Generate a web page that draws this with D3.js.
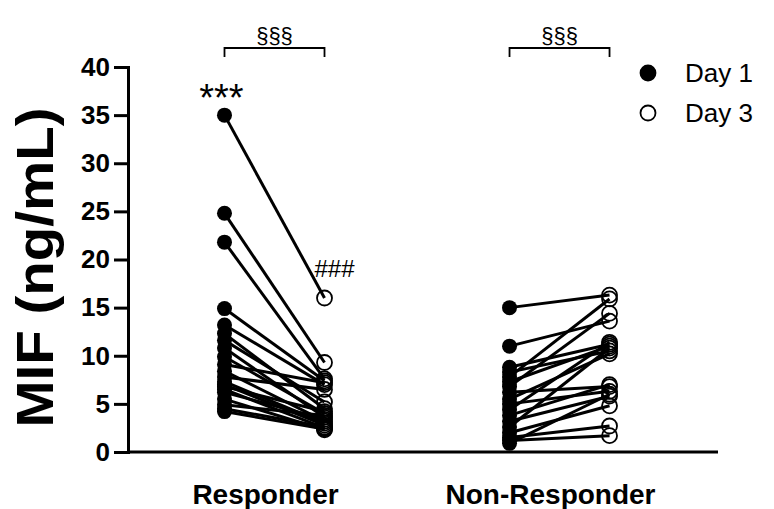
<!DOCTYPE html>
<html>
<head>
<meta charset="utf-8">
<script src="https://cdn.jsdelivr.net/npm/d3@7"></script>
<style>
  body { margin: 0; background: #fff; }
  text { font-family: "Liberation Sans", Arial, sans-serif; }
</style>
</head>
<body>
<svg id="chart" width="774" height="509"></svg>
<script>
// groups and days
const groups = ["Responder", "Non-Responder"];
const days = ["Day 1", "Day 3"];
const yTicks = [0, 5, 10, 15, 20, 25, 30, 35, 40];

// paired values (same index = same patient), ng/mL
const responderDay1 = [35, 24.8, 21.8, 14.9, 13.2, 12.3, 11.6, 10.8, 9.9, 9.1, 8.4, 7.8, 7.3, 7.0, 6.8, 6.5, 6.2, 5.5, 4.9, 4.5, 4.2];
const responderDay3 = [16.0, 9.3, 7.6, 7.4, 7.0, 4.5, 5.2, 3.6, 4.0, 7.2, 3.2, 6.5, 3.0, 2.8, 4.2, 2.5, 3.4, 2.3, 3.8, 2.6, 2.4];
const nonResponderDay1 = [15.0, 11.0, 8.8, 8.3, 7.8, 7.3, 6.8, 6.2, 5.5, 5.0, 4.4, 3.8, 3.2, 2.6, 2.0, 1.5, 1.2, 0.9];
const nonResponderDay3 = [16.3, 13.6, 11.2, 10.5, 15.9, 11.0, 14.4, 6.8, 10.2, 6.3, 11.4, 7.0, 5.8, 10.8, 4.8, 2.7, 1.7, 6.0];

const series = [
  { group: "Responder", d1: responderDay1, d3: responderDay3 },
  { group: "Non-Responder", d1: nonResponderDay1, d3: nonResponderDay3 }
];

const margin = { top: 67, right: 56, bottom: 57, left: 128 };
const width = 774 - margin.left - margin.right;
const height = 509 - margin.top - margin.bottom;

const svg = d3.select("#chart");
const g = svg.append("g").attr("transform", `translate(${margin.left},${margin.top})`);

const yScale = d3.scaleLinear().domain([0, 40]).range([height, 0]);
const xScale = d3.scaleBand().domain(groups).range([0, width])
  .paddingInner(0).paddingOuter(0.035).align(0.2);
const dayScale = d3.scalePoint().domain(days).range([0, xScale.bandwidth()]).padding(0.925);

const xPos = (grp, day) => xScale(grp) + dayScale(day);

// y axis
const yAxis = g.append("g")
  .call(d3.axisLeft(yScale).tickValues(yTicks).tickSize(14).tickPadding(4));
yAxis.select(".domain").attr("stroke-width", 3);
yAxis.selectAll(".tick line").attr("stroke-width", 3);
yAxis.selectAll(".tick text")
  .attr("font-size", 26).attr("font-weight", "bold").attr("fill", "#000")
  .attr("font-family", "Liberation Sans, Arial, sans-serif");

// x axis (just the baseline)
g.append("line")
  .attr("x1", 0).attr("x2", width)
  .attr("y1", yScale(0)).attr("y2", yScale(0))
  .attr("stroke", "#000").attr("stroke-width", 3);

// group labels
g.selectAll(".group-label")
  .data(groups)
  .join("text")
    .attr("class", "group-label")
    .attr("x", d => xScale(d) + xScale.bandwidth() / 2 - 9)
    .attr("y", height + 52)
    .attr("text-anchor", "middle")
    .attr("font-size", 28).attr("font-weight", "bold")
    .text(d => d);

// y label
svg.append("text")
  .attr("transform", `translate(53,${margin.top + height / 2 + 8}) rotate(-90)`)
  .attr("text-anchor", "middle")
  .attr("font-size", 52).attr("font-weight", "bold")
  .attr("textLength", 320).attr("lengthAdjust", "spacingAndGlyphs")
  .text("MIF (ng/mL)");

// paired lines
series.forEach(s => {
  const pairs = s.d1.map((v, i) => ({ a: v, b: s.d3[i] }));
  g.append("g").selectAll("line")
    .data(pairs)
    .join("line")
      .attr("x1", xPos(s.group, "Day 1")).attr("y1", d => yScale(d.a))
      .attr("x2", xPos(s.group, "Day 3")).attr("y2", d => yScale(d.b))
      .attr("stroke", "#000").attr("stroke-width", 3);

  g.append("g").selectAll("circle")
    .data(s.d3)
    .join("circle")
      .attr("cx", xPos(s.group, "Day 3")).attr("cy", d => yScale(d))
      .attr("r", 7.5)
      .attr("fill", "none").attr("stroke", "#000").attr("stroke-width", 1.8);

  g.append("g").selectAll("circle")
    .data(s.d1)
    .join("circle")
      .attr("cx", xPos(s.group, "Day 1")).attr("cy", d => yScale(d))
      .attr("r", 7.5)
      .attr("fill", "#000");
});

// significance brackets
groups.forEach(grp => {
  const x1 = xPos(grp, "Day 1"), x2 = xPos(grp, "Day 3");
  const yb = -19;
  g.append("path")
    .attr("d", `M${x1},${yb + 9}V${yb}H${x2}V${yb + 9}`)
    .attr("fill", "none").attr("stroke", "#000").attr("stroke-width", 1.8);
  g.append("text")
    .attr("x", (x1 + x2) / 2).attr("y", yb - 5)
    .attr("text-anchor", "middle").attr("font-size", 22)
    .text("§§§");
});

// *** over responder day 1 max, ### next to day 3
g.append("text")
  .attr("x", xPos("Responder", "Day 1") - 3)
  .attr("y", yScale(d3.max(responderDay1)) - 4)
  .attr("text-anchor", "middle").attr("font-size", 38)
  .text("***");
g.append("text")
  .attr("x", xPos("Responder", "Day 3") - 10)
  .attr("y", yScale(d3.max(responderDay3)) - 21)
  .attr("font-size", 24)
  .text("###");

// legend
const legend = svg.append("g").attr("transform", "translate(648,73)");
days.forEach((d, i) => {
  const row = legend.append("g").attr("transform", `translate(0,${i * 40})`);
  row.append("circle")
    .attr("r", 7.5)
    .attr("fill", i === 0 ? "#000" : "#fff")
    .attr("stroke", "#000").attr("stroke-width", 1.8);
  row.append("text")
    .attr("x", 37).attr("y", 9)
    .attr("font-size", 26)
    .text(d);
});
</script>
</body>
</html>
